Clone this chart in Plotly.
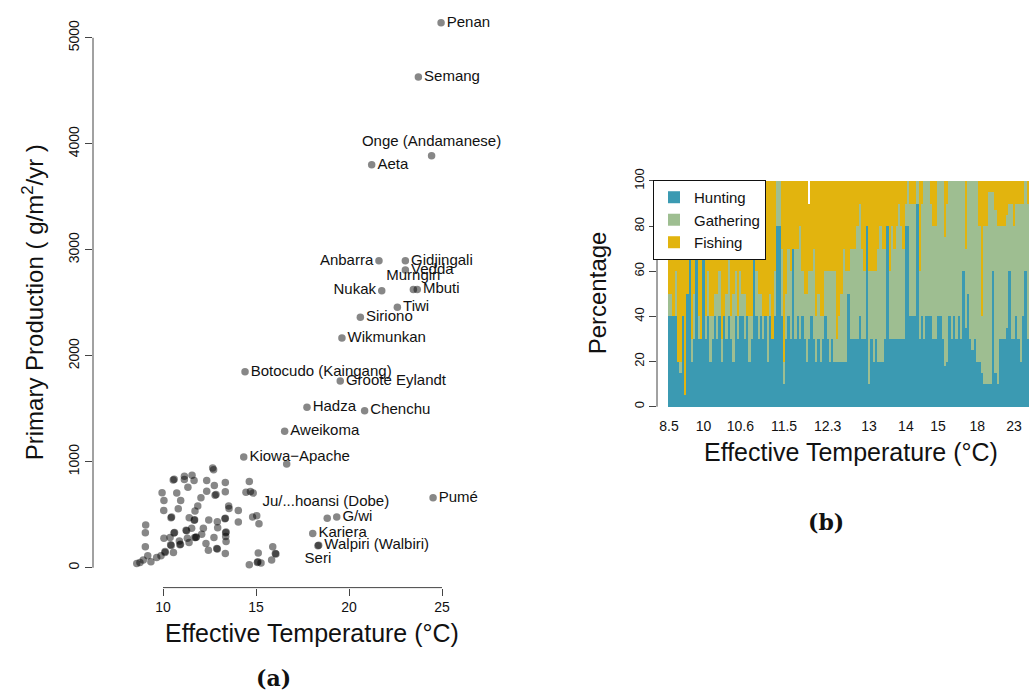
import plotly.graph_objects as go

W, H = 1029, 694

# ---------------- Panel (a): primary production vs effective temperature ----------------
named_society = ["Penan", "Semang", "Onge (Andamanese)", "Aeta", "Anbarra", "Gidjingali",
                 "Vedda", "Nukak", "Murngin", "Mbuti", "Tiwi", "Siriono", "Wikmunkan",
                 "Botocudo (Kaingang)", "Groote Eylandt", "Hadza", "Chenchu", "Aweikoma",
                 "Kiowa\u2212Apache", "Pumé", "Ju/...hoansi (Dobe)", "G/wi", "Kariera",
                 "Walpiri (Walbiri)", "Seri"]
named_temp = [24.95, 23.73, 24.44, 21.22, 21.61, 23.03, 23.03, 21.76, 23.46, 23.67, 22.60,
              20.61, 19.62, 14.41, 19.53, 17.74, 20.84, 16.54, 14.34, 24.52, 15.04, 19.34,
              18.05, 18.37, 18.33]
named_prod = [5141, 4631, 3887, 3802, 2896, 2896, 2808, 2614, 2624, 2624, 2458, 2364, 2167,
              1848, 1761, 1513, 1482, 1288, 1044, 660, 491, 478, 322, 213, 208]
named_textpos = ["middle right", "middle right", "top center", "middle right", "middle left",
                 "middle right", "middle right", "middle left", "top center", "middle right",
                 "middle right", "middle right", "middle right", "middle right", "middle right",
                 "middle right", "middle right", "middle right", "middle right", "middle right",
                 "top right", "middle right", "middle right", "middle right", "bottom center"]

other_temp = [12.67, 12.72, 10.55, 10.60, 11.15, 11.15, 11.56, 11.67, 12.35, 13.35, 14.64,
              12.76, 11.34, 9.95, 10.74, 12.35, 13.35, 14.46, 14.70, 14.85, 12.80, 12.85,
              12.04, 10.05, 10.95, 11.87, 13.53, 14.05, 10.04, 10.82, 11.72, 13.55, 10.43,
              10.46, 11.41, 11.68, 11.70, 12.46, 12.92, 13.33, 13.35, 14.05, 14.82, 15.16,
              9.07, 9.05, 10.59, 10.62, 11.24, 11.27, 11.54, 12.17, 12.94, 13.37, 13.39,
              13.37, 11.76, 11.79, 12.08, 12.74, 10.05, 10.38, 10.88, 11.31, 10.91, 10.94,
              10.41, 10.44, 12.31, 13.39, 9.05, 10.11, 10.56, 12.44, 12.89, 12.92, 13.35,
              8.59, 8.76, 8.94, 9.18, 9.35, 9.66, 9.89, 10.11, 14.64, 15.07, 15.10, 15.27,
              15.12, 15.90, 15.84, 16.04, 16.07, 16.65, 18.83, 11.40, 11.70]
other_prod = [941, 925, 828, 835, 863, 832, 872, 823, 823, 804, 813,
              776, 760, 707, 704, 722, 716, 713, 720, 704, 685, 690,
              660, 635, 635, 582, 582, 541, 541, 556, 535, 560, 472,
              478, 472, 447, 452, 450, 434, 463, 468, 431, 478, 416,
              403, 331, 328, 333, 354, 348, 372, 372, 378, 331, 336,
              294, 285, 290, 316, 285, 279, 285, 253, 279, 216, 222,
              216, 210, 228, 247, 197, 153, 144, 166, 181, 176, 134,
              40, 50, 72, 113, 56, 97, 113, 144, 28, 50, 56, 44,
              138, 197, 72, 134, 129, 978, 466, 238, 285]

x_ticks_a = [10, 15, 20, 25]
y_ticks_a = [0, 1000, 2000, 3000, 4000, 5000]

# ---------------- Panel (b): subsistence percentages, bars sorted by temperature ----------------
bar_hunting = [40, 40, 40, 40, 20, 15, 40, 5, 50, 70, 20, 30, 65, 30, 30, 70, 30, 40, 20, 30,
               40, 30, 40, 20, 40, 30, 40, 30, 20, 40, 30, 40, 40, 30, 40, 20, 30, 65, 40, 30,
               40, 30, 40, 20, 40, 30, 40, 80, 80, 40, 10, 30, 40, 30, 70, 30, 40, 30, 40, 30,
               20, 30, 40, 30, 20, 30, 20, 30, 40, 30, 20, 30, 20, 20, 20, 20, 20, 20, 50, 30,
               30, 30, 30, 40, 30, 30, 80, 10, 30, 20, 30, 20, 20, 20, 30, 80, 30, 30, 30, 30,
               30, 30, 30, 80, 80, 40, 40, 40, 90, 30, 40, 30, 40, 40, 40, 30, 30, 40, 40, 30,
               18, 20, 40, 30, 40, 30, 40, 30, 60, 35, 50, 30, 25, 30, 20, 20, 15, 10, 10, 10,
               10, 60, 15, 10, 30, 30, 30, 35, 60, 30, 30, 40, 30, 20, 40, 60, 30, 30]
bar_gathering = [10, 10, 0, 20, 0, 5, 0, 0, 0, 0, 10, 20, 0, 10, 0, 0, 10, 20, 20, 10,
                 10, 20, 20, 10, 0, 20, 30, 10, 30, 20, 10, 20, 10, 20, 0, 20, 10, 0, 20, 20,
                 10, 10, 0, 20, 10, 0, 20, 20, 20, 30, 10, 20, 30, 30, 0, 40, 30, 50, 20, 20,
                 30, 30, 20, 40, 20, 20, 20, 10, 20, 30, 40, 30, 40, 10, 20, 30, 50, 40, 10, 40,
                 40, 40, 50, 50, 40, 30, 0, 50, 30, 40, 30, 50, 60, 50, 40, 0, 30, 50, 40, 50,
                 60, 50, 40, 10, 20, 50, 50, 50, 10, 30, 50, 70, 60, 60, 50, 50, 50, 60, 60, 70,
                 57, 70, 60, 70, 60, 70, 60, 70, 40, 35, 50, 70, 75, 70, 80, 60, 25, 70, 70, 85,
                 85, 35, 72, 70, 50, 50, 50, 50, 30, 60, 50, 50, 60, 70, 50, 40, 60, 60]
bar_fishing = [50, 50, 60, 40, 80, 80, 60, 95, 50, 30, 70, 50, 35, 60, 70, 30, 60, 40, 60, 60,
               50, 50, 40, 70, 60, 50, 30, 60, 50, 40, 60, 40, 50, 50, 60, 60, 60, 35, 40, 50,
               50, 60, 60, 60, 50, 70, 40, 0, 0, 30, 80, 50, 30, 40, 30, 30, 30, 20, 40, 50,
               50, 30, 40, 30, 60, 50, 60, 60, 40, 40, 40, 40, 40, 70, 60, 50, 30, 40, 40, 30,
               30, 30, 20, 10, 30, 40, 20, 40, 40, 40, 40, 30, 20, 30, 30, 20, 40, 20, 30, 20,
               10, 20, 30, 10, 0, 10, 10, 10, 0, 40, 10, 0, 0, 0, 10, 20, 20, 0, 0, 0,
               25, 10, 0, 0, 0, 0, 0, 0, 0, 30, 0, 0, 0, 0, 0, 20, 60, 20, 20, 5,
               5, 5, 13, 20, 20, 20, 20, 15, 10, 10, 20, 10, 10, 10, 10, 0, 10, 10]
tick_bar_index = [0, 15, 31, 50, 69, 87, 103, 117, 134, 150]
tick_labels = ["8.5", "10", "10.6", "11.5", "12.3", "13", "14", "15", "18", "23"]
y_ticks_b = [0, 20, 40, 60, 80, 100]

# ---------------- helpers for layout placement (pixels -> paper) ----------------
def fx(px):
    return px / W


def fy(py):
    return 1 - py / H


FONT = "Liberation Sans, Arial, Helvetica, sans-serif"
SERIF = "DejaVu Serif, Liberation Serif, serif"
AXIS_COL = "#444444"
C_HUNT, C_GATH, C_FISH = "#3B9AB2", "#9EBE91", "#E2B40E"

fig = go.Figure()

# scatter points (unlabelled)
fig.add_trace(go.Scatter(
    x=other_temp, y=other_prod, mode="markers",
    marker=dict(size=7.5, color="rgba(0,0,0,0.47)", line=dict(width=0)),
    xaxis="x", yaxis="y", showlegend=False, hoverinfo="skip", cliponaxis=False))
# labelled societies
fig.add_trace(go.Scatter(
    x=named_temp, y=named_prod, mode="markers+text", text=named_society,
    textposition=named_textpos,
    textfont=dict(family=FONT, size=15, color="#111111"),
    marker=dict(size=7.5, color="rgba(0,0,0,0.47)", line=dict(width=0)),
    xaxis="x", yaxis="y", showlegend=False, hoverinfo="skip", cliponaxis=False))

# stacked bars
idx = list(range(len(bar_hunting)))
for name, vals, col in [("Hunting", bar_hunting, C_HUNT),
                        ("Gathering", bar_gathering, C_GATH),
                        ("Fishing", bar_fishing, C_FISH)]:
    fig.add_trace(go.Bar(x=idx, y=vals, name=name, marker=dict(color=col, line=dict(width=0)),
                         width=1.0, xaxis="x2", yaxis="y2", hoverinfo="skip"))

px_per_unit_x = 18.6
px_per_unit_y = (567 - 34) / 5000.0
bar_px = 2.3

common_axis = dict(showgrid=False, zeroline=False, showline=False,
                   tickcolor=AXIS_COL, tickwidth=1)


def tf(size):
    return dict(family=FONT, size=size, color="#111111")


def ann(text, x, y, size, family=FONT, angle=0):
    return dict(text=text, xref="paper", yref="paper", x=fx(x), y=fy(y),
                xanchor="center", yanchor="middle", showarrow=False, textangle=angle,
                font=dict(size=size, family=family, color="#111111"))


fig.update_layout(
    width=W, height=H, margin=dict(l=0, r=0, t=0, b=0, pad=0),
    paper_bgcolor="white", plot_bgcolor="white",
    font=dict(family=FONT, color="#111111"),
    barmode="stack", bargap=0,
    xaxis=dict(domain=[fx(93), fx(460)],
               range=[10 + (93 - 163) / px_per_unit_x, 10 + (460 - 163) / px_per_unit_x],
               tickvals=x_ticks_a, ticks="outside", ticklen=7, anchor="y",
               tickfont=tf(14), **common_axis),
    yaxis=dict(domain=[fy(587), fy(10)],
               range=[(567 - 587) / px_per_unit_y, (567 - 10) / px_per_unit_y],
               tickvals=y_ticks_a, ticks="outside", ticklen=7, tickangle=-90,
               anchor="x", tickfont=tf(14), **common_axis),
    xaxis2=dict(domain=[fx(657), 1.0],
                range=[(657 - 669) / bar_px, (1029 - 669) / bar_px],
                tickvals=tick_bar_index, ticktext=tick_labels, ticks="",
                anchor="y2", tickfont=tf(14), **common_axis),
    yaxis2=dict(domain=[fy(414.1), fy(168.9)], range=[-4, 104],
                tickvals=y_ticks_b, ticks="outside", ticklen=7, tickangle=-90,
                anchor="x2", tickfont=tf(13), **common_axis),
    legend=dict(x=fx(653), y=fy(177), xanchor="left", yanchor="top",
                bgcolor="white", bordercolor="#111111", borderwidth=1,
                font=dict(family=FONT, size=15, color="#111111"),
                traceorder="normal", itemwidth=30, tracegroupgap=0),
    shapes=[
        dict(type="line", xref="x", yref="y domain", x0=min(x_ticks_a), x1=max(x_ticks_a),
             y0=0, y1=0, line=dict(color=AXIS_COL, width=1)),
        dict(type="line", xref="x domain", yref="y", x0=0, x1=0,
             y0=min(y_ticks_a), y1=max(y_ticks_a), line=dict(color=AXIS_COL, width=1)),
        dict(type="line", xref="x2 domain", yref="y2", x0=0, x1=0,
             y0=min(y_ticks_b), y1=max(y_ticks_b), line=dict(color=AXIS_COL, width=1)),
    ],
    annotations=[
        ann("Effective Temperature (\u00b0C)", 312, 633, 25),
        ann("Primary Production ( g/m<sup>2</sup>/yr )", 33, 300, 24, angle=-90),
        ann("Effective Temperature (\u00b0C)", 851, 451, 25),
        ann("Percentage", 597, 291, 24, angle=-90),
        ann("<b>(a)</b>", 273, 678, 22, family=SERIF),
        ann("<b>(b)</b>", 826, 521, 22, family=SERIF),
    ],
)

fig.write_html("out.html", config={"displayModeBar": False},
               post_script="document.body.style.margin='0';document.body.style.padding='0';"
                           "document.body.style.overflow='hidden';")
